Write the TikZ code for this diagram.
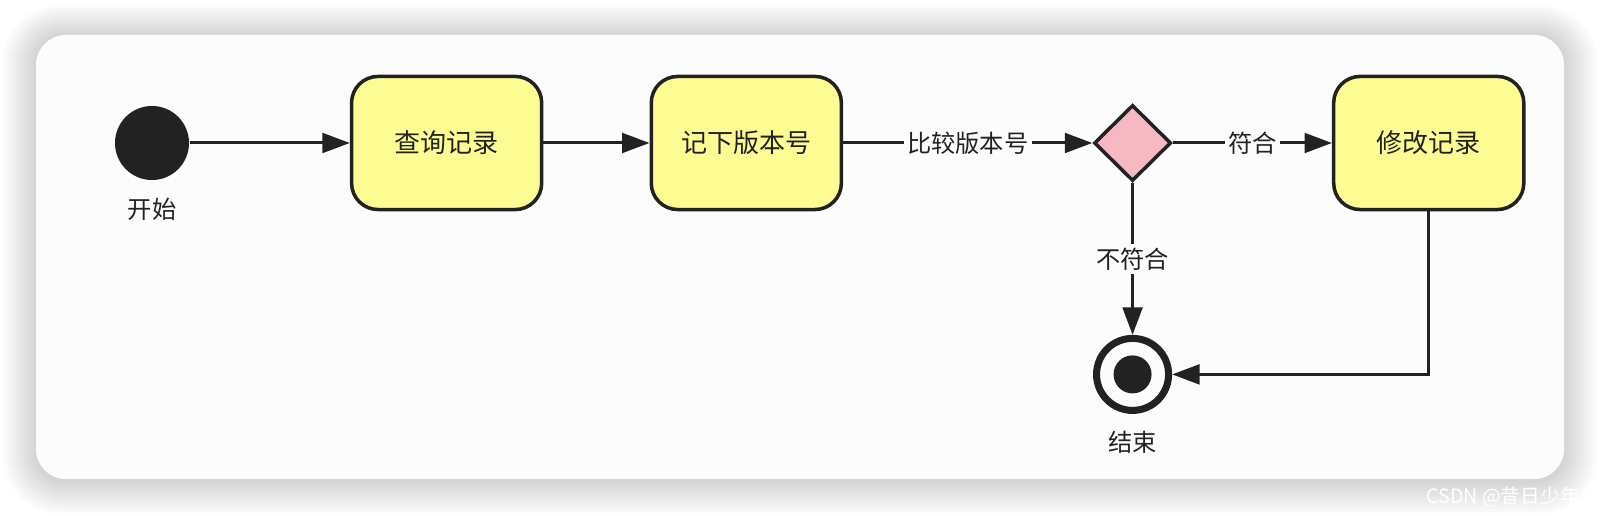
\documentclass[tikz,border=0pt]{standalone}
\usepackage{fontspec}
\newfontfamily\cjk{Noto Sans CJK SC}
\usetikzlibrary{positioning, shapes.geometric, arrows.meta}

\definecolor{stateyellow}{RGB}{252,252,146}
\definecolor{decisionpink}{RGB}{246,184,194}
\definecolor{inkdark}{RGB}{34,34,34}
\definecolor{cardwhite}{RGB}{251,252,251}

\begin{document}
\begin{tikzpicture}[
    x=0.01cm, y=-0.01cm,
    node distance=1.5cm and 2cm,
    >={Triangle[length=7.8pt, width=5.6pt]},
    % Styles
    base/.style={draw=inkdark, text=inkdark, font=\cjk\fontsize{7.4}{9}\selectfont},
    state/.style={base, rectangle, rounded corners=7.5pt, fill=stateyellow, line width=1pt, minimum width=1.9cm, minimum height=1.33cm},
    decision/.style={base, diamond, fill=decisionpink, line width=1pt, inner sep=0pt, minimum width=0.77cm, minimum height=0.76cm},
    initial/.style={circle, fill=inkdark, inner sep=0pt, minimum size=0.74cm},
    final/.style={circle, draw=inkdark, fill=cardwhite, line width=2pt, inner sep=0pt, minimum size=0.72cm},
    finaldot/.style={circle, fill=inkdark, inner sep=0pt, minimum size=0.38cm},
    caption/.style={text=inkdark, font=\cjk\fontsize{6.9}{8}\selectfont},
    edgelbl/.style={caption, fill=cardwhite, inner sep=1pt},
    flow/.style={->, draw=inkdark, line width=0.85pt}
]
    \useasboundingbox (0,0) rectangle (1600,516);

    % --- Card with soft shadow ---
    \fill[white] (0,0) rectangle (1600,516);
    \foreach \i in {1,...,14}
        \fill[black, opacity=0.012, rounded corners=8.5pt+\i*0.6pt]
            (36-\i*2.4,35-\i*2.2) rectangle (1564+\i*2.4,481+\i*2.4);
    \fill[cardwhite, rounded corners=8.5pt] (36,35) rectangle (1564,479);

    % --- Nodes ---
    \node [initial] (start) at (152,143) {};
    \node [caption, below=0.05cm of start] (startlbl) {开始};

    \node [state, right=1.6cm of start] (query) {查询记录};
    \node [state, right=1.06cm of query] (note) {记下版本号};
    \node [decision, right=2.49cm of note] (check) {};
    \node [state, right=1.59cm of check] (modify) {修改记录};

    \node [final, below=1.52cm of check] (stop) {};
    \node [finaldot] (stopdot) at (stop.center) {};
    \node [caption, below=0.05cm of stop] (stoplbl) {结束};

    % --- Connections ---
    \draw [flow] (start) -- (query);
    \draw [flow] (query) -- (note);
    \draw [flow] (note) -- node [edgelbl] {比较版本号} (check);
    \draw [flow] (check) -- node [edgelbl] {符合} (modify);
    \draw [flow] (check) -- node [edgelbl] {不符合} (stop);
    \draw [flow] (modify.south) |- (stop.east);

    % Watermark
    \node [text=white, font=\cjk\fontsize{5.6}{7}\selectfont] (mark) at (1503,497) {CSDN @昔日少年};
\end{tikzpicture}
\end{document}
